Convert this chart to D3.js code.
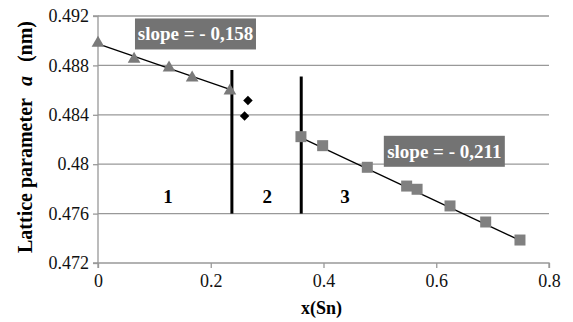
<!DOCTYPE html>
<html>
<head>
<meta charset="utf-8">
<script src="https://cdn.jsdelivr.net/npm/d3@7"></script>
<style>
  body { margin: 0; background: #fff; }
</style>
</head>
<body>
<div id="chart"></div>
<script>
// region 1 (triangles)
var triX = [0, 0.064, 0.126, 0.167, 0.234]
var triY = [0.4898, 0.48852, 0.48781, 0.4870, 0.48595]
// region 2 (diamonds)
var diaX = [0.266, 0.260]
var diaY = [0.48515, 0.48390]
// region 3 (squares)
var sqX = [0.360, 0.3985, 0.4777, 0.5475, 0.566, 0.6244, 0.6877, 0.7485]
var sqY = [0.48223, 0.4815, 0.47975, 0.47823, 0.47797, 0.47662, 0.47532, 0.47386]
// fitted lines, endpoints
var fit1 = [[0, 0.48975], [0.234, 0.48605]]
var fit3 = [[0.36, 0.48215], [0.7485, 0.47383]]
// phase boundaries
var bounds = [{x: 0.2375, top: 0.48763}, {x: 0.3605, top: 0.4871}]
var regionLabels = [{t: "1", x: 0.124}, {t: "2", x: 0.300}, {t: "3", x: 0.438}]
var slopeLabels = [{t: "slope = - 0,158", x: 0.0656, y: 0.4918}, {t: "slope = - 0,211", x: 0.507, y: 0.4823}]
var xTicks = [0, 0.2, 0.4, 0.6, 0.8]
var yTicks = [0.472, 0.476, 0.48, 0.484, 0.488, 0.492]

var serif = 'Liberation Serif'

var w = 573, h = 322
var margin = {top: 16, right: 24, bottom: 59, left: 98}
var width = w - margin.left - margin.right
var height = h - margin.top - margin.bottom

var svg = d3.select('#chart').append('svg')
    .attr('width', w)
    .attr('height', h)
    .attr('font-family', serif)
var g = svg.append('g')
    .attr('transform', 'translate(' + margin.left + ',' + margin.top + ')')

var x = d3.scaleLinear().domain([0, 0.8]).range([0, width])
var y = d3.scaleLinear().domain([0.472, 0.492]).range([height, 0])

// grid
g.selectAll('.grid')
  .data(yTicks.slice(1))
  .enter().append('line')
    .attr('x1', 0).attr('x2', width)
    .attr('y1', function(d) {return y(d)}).attr('y2', function(d) {return y(d)})
    .attr('stroke', '#999').attr('stroke-width', 1.3)

var xAxis = g.append('g')
    .attr('transform', 'translate(0,' + height + ')')
    .call(d3.axisBottom(x).tickValues(xTicks).tickSize(5).tickPadding(6)
      .tickFormat(function(d) {return d3.format('')(d)}))
var yAxis = g.append('g')
    .call(d3.axisLeft(y).tickValues(yTicks).tickSize(5).tickPadding(4)
      .tickFormat(function(d) {return d3.format('')(+d.toFixed(3))}))

;[xAxis, yAxis].forEach(function(a) {
  a.attr('font-family', serif).attr('font-size', 18)
  a.selectAll('path, line').attr('stroke', '#999').attr('stroke-width', 1.3)
  a.selectAll('text').attr('fill', '#111')
})
xAxis.select('.domain').attr('d', 'M0,5V0H' + width + 'V5')
yAxis.select('.domain').attr('d', 'M-5,0H0V' + height + 'H-5')

// boundaries
g.selectAll('.bound')
  .data(bounds)
  .enter().append('line')
    .attr('x1', function(d) {return x(d.x)}).attr('x2', function(d) {return x(d.x)})
    .attr('y1', function(d) {return y(d.top)}).attr('y2', y(0.476))
    .attr('stroke', '#000').attr('stroke-width', 3)

// fit lines
var line = d3.line().x(function(d) {return x(d[0])}).y(function(d) {return y(d[1])})
g.selectAll('.fit')
  .data([fit1, fit3])
  .enter().append('path')
    .attr('d', line)
    .attr('fill', 'none').attr('stroke', '#000').attr('stroke-width', 1.3)

// triangles
g.selectAll('.tri')
  .data(triX)
  .enter().append('path')
    .attr('d', d3.symbol().type(d3.symbolTriangle).size(70))
    .attr('transform', function(d, i) {return 'translate(' + x(d) + ',' + y(triY[i]) + ')'})
    .attr('fill', '#7a7a7a')

// diamonds
g.selectAll('.dia')
  .data(diaX)
  .enter().append('path')
    .attr('d', d3.symbol().type(d3.symbolSquare).size(45))
    .attr('transform', function(d, i) {return 'translate(' + x(d) + ',' + y(diaY[i]) + ') rotate(45)'})
    .attr('fill', '#000')

// squares
g.selectAll('.sq')
  .data(sqX)
  .enter().append('rect')
    .attr('x', function(d) {return x(d) - 5.5})
    .attr('y', function(d, i) {return y(sqY[i]) - 5.5})
    .attr('width', 11).attr('height', 11)
    .attr('fill', '#808080')

// region numbers
g.selectAll('.reg')
  .data(regionLabels)
  .enter().append('text')
    .attr('x', function(d) {return x(d.x)})
    .attr('y', y(0.47685))
    .attr('text-anchor', 'middle')
    .attr('font-size', 19).attr('font-weight', 'bold')
    .text(function(d) {return d.t})

// slope boxes
var sl = g.selectAll('.slope')
  .data(slopeLabels)
  .enter().append('g')
    .attr('transform', function(d) {return 'translate(' + x(d.x) + ',' + y(d.y) + ')'})
sl.append('rect')
    .attr('width', 121).attr('height', 31)
    .attr('fill', '#737373')
sl.append('text')
    .attr('x', 60.5).attr('y', 22)
    .attr('text-anchor', 'middle')
    .attr('font-size', 19).attr('font-weight', 'bold').attr('fill', '#fff')
    .text(function(d) {return d.t})

// axis titles
svg.append('text')
    .attr('x', margin.left + width / 2 - 2)
    .attr('y', 314)
    .attr('text-anchor', 'middle')
    .attr('font-size', 18).attr('font-weight', 'bold')
    .text('x(Sn)')

var yl = svg.append('text')
    .attr('transform', 'translate(32,137) rotate(-90) scale(1,1.05)')
    .attr('text-anchor', 'middle')
    .attr('font-size', 20).attr('font-weight', 'bold')
yl.append('tspan').text('Lattice parameter')
yl.append('tspan').attr('dx', 12).attr('font-style', 'italic').text('a')
yl.append('tspan').attr('dx', 14).text('(nm)')
</script>
</body>
</html>
